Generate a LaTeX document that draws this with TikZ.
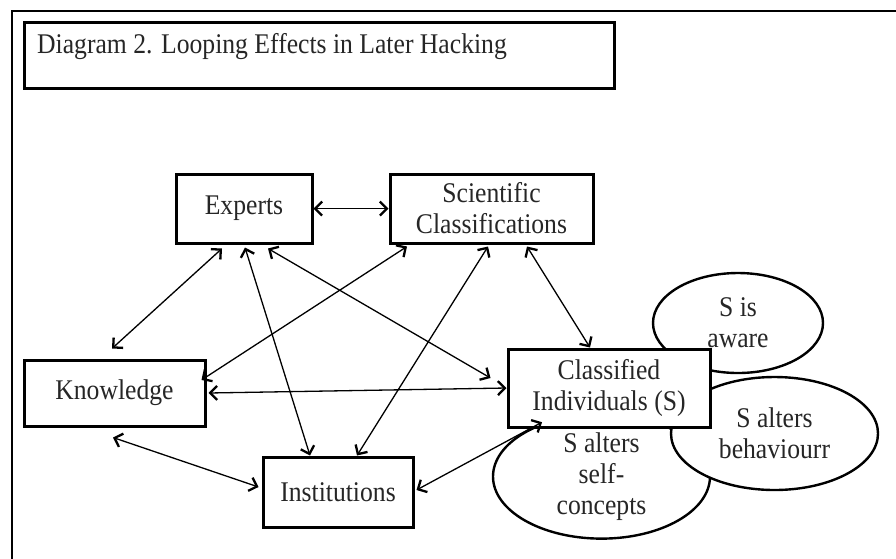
\documentclass[tikz,border=0pt]{standalone}
\usepackage{fontspec}
\setmainfont{Liberation Serif}[FakeStretch=0.9]
\usetikzlibrary{arrows.meta,shapes.geometric}
\begin{document}
\begin{tikzpicture}[x=1pt,y=-1pt,
  every node/.style={font=\fontsize{28.5}{31}\selectfont, text=black!85},
  box/.style={draw=black, line width=3pt, fill=white, inner sep=0pt, align=center},
  oval/.style={ellipse, draw=black, line width=2.4pt, fill=white, inner sep=0pt, align=center},
  tipv/.tip={Straight Barb[length=7pt,width=14pt,line width=2.3pt]},
  link/.style={line width=1.3pt, tipv-tipv},
]
\useasboundingbox (0,0) rectangle (896,558);
\fill[white] (0,0) rectangle (896,558);
% outer frame
\draw[line width=2.8pt] (12,562) -- (12,11) -- (900,11);
% title
\node[box, minimum width=590pt, minimum height=66pt, anchor=north west] (title) at (23,21) {};
\node[anchor=base west, inner sep=0pt] (titletext) at (37,53) {Diagram 2. Looping Effects in Later Hacking};
% boxes
\node[box, minimum width=136pt, minimum height=69pt] (exp) at (244,208.5) {Experts};
\node[box, minimum width=203pt, minimum height=69pt] (sci) at (491.5,208.5) {Scientific\\Classifications};
\node[box, minimum width=181pt, minimum height=66pt] (know) at (114.5,393) {Knowledge};
\node[box, minimum width=150pt, minimum height=70pt] (inst) at (338,492) {Institutions};
% ellipses
\node[oval, minimum width=217pt, minimum height=99pt] (self) at (601.5,476.5) {S alters\\self-\\concepts};
\node[oval, minimum width=207pt, minimum height=113pt] (beh) at (774.5,433.5) {S alters\\behaviourr};
\node[oval, minimum width=170pt, minimum height=100pt] (aware) at (738,323) {S is\\aware};
\node[box, minimum width=202pt, minimum height=78pt] (cls) at (609,388) {Classified\\Individuals (S)};
% connectors
\draw[link] (exp) -- (sci);
\draw[link] ([xshift=-22pt,yshift=-4pt]exp.south) -- ([xshift=-2.5pt,yshift=10pt]know.north);
\draw[link] ([xshift=1pt,yshift=-3pt]exp.south) -- ([xshift=-28pt]inst.north);
\draw[link] ([xshift=24pt,yshift=-4pt]exp.south) -- ([xshift=-16pt,yshift=10pt]cls.west);
\draw[link] ([xshift=2pt]know.east) -- (cls.west);
\draw[link] ([xshift=-84.5pt,yshift=-2pt]sci.south) -- ([xshift=-5pt,yshift=13pt]know.east);
\draw[link] ([xshift=-3.5pt,yshift=-2pt]sci.south) -- ([xshift=19pt]inst.north);
\draw[link] ([xshift=35.5pt,yshift=-2pt]sci.south) -- ([xshift=-19pt]cls.north);
\draw[link] ([xshift=-1.5pt,yshift=-10pt]know.south) -- ([xshift=-3pt,yshift=5pt]inst.west);
\draw[link] ([xshift=2pt,yshift=2pt]inst.east) -- ([xshift=-59.5pt,yshift=-9pt]self.north);
\end{tikzpicture}
\end{document}
